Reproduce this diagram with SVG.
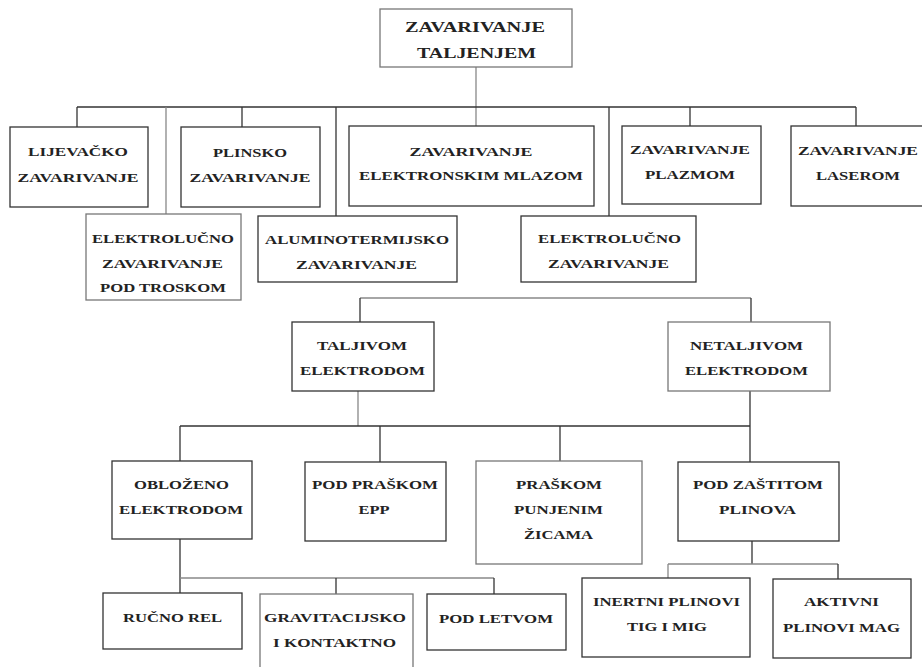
<svg xmlns="http://www.w3.org/2000/svg" width="922" height="667" viewBox="0 0 922 667">
<style>
rect{fill:#fff;stroke:#333;stroke-width:1.3}
rect.g{stroke:#777}
#connectors line{stroke:#333;stroke-width:1.3}
#connectors line.g{stroke:#888}
text{font-family:"Liberation Serif","Times New Roman",serif;font-weight:bold;font-size:13.5px;fill:#222;text-anchor:middle}
text.r{font-size:14.5px}
</style>
<rect x="0" y="0" width="922" height="667" style="fill:#fff;stroke:none"/>
<g id="connectors">
<line class="g" x1="476" y1="67" x2="476" y2="126"/>
<line x1="77" y1="107" x2="856" y2="107"/>
<line x1="77" y1="107" x2="77" y2="127"/>
<line class="g" x1="166" y1="107" x2="166" y2="214"/>
<line x1="242" y1="107" x2="242" y2="127"/>
<line x1="336" y1="107" x2="336" y2="216"/>
<line x1="609" y1="107" x2="609" y2="216"/>
<line x1="690" y1="107" x2="690" y2="126"/>
<line x1="856" y1="107" x2="856" y2="126"/>
<line class="g" x1="360" y1="298" x2="751" y2="298"/>
<line x1="360" y1="298" x2="360" y2="322"/>
<line x1="751" y1="298" x2="751" y2="322"/>
<line class="g" x1="358" y1="391" x2="358" y2="426"/>
<line x1="180" y1="426" x2="750" y2="426"/>
<line x1="180" y1="426" x2="180" y2="461"/>
<line x1="380" y1="426" x2="380" y2="462"/>
<line x1="560" y1="426" x2="560" y2="461"/>
<line x1="750" y1="391" x2="750" y2="462"/>
<line x1="180" y1="539" x2="180" y2="593"/>
<line class="g" x1="180" y1="578" x2="494" y2="578"/>
<line x1="336" y1="578" x2="336" y2="594"/>
<line x1="494" y1="578" x2="494" y2="594"/>
<line x1="752" y1="541" x2="752" y2="564"/>
<line class="g" x1="668" y1="564" x2="838" y2="564"/>
<line class="g" x1="668" y1="564" x2="668" y2="578"/>
<line x1="838" y1="564" x2="838" y2="579"/>
</g>
<g id="n-root">
<rect class="g" x="380" y="9" width="192" height="58"/>
<text class="r" x="475" y="32" textLength="140" lengthAdjust="spacingAndGlyphs">ZAVARIVANJE</text>
<text class="r" x="476.5" y="58" textLength="119" lengthAdjust="spacingAndGlyphs">TALJENJEM</text>
</g>
<g id="n-lijevacko">
<rect x="10" y="127" width="138" height="80"/>
<text x="78" y="156" textLength="100" lengthAdjust="spacingAndGlyphs">LIJEVAČKO</text>
<text x="78" y="182" textLength="121" lengthAdjust="spacingAndGlyphs">ZAVARIVANJE</text>
</g>
<g id="n-plinsko">
<rect x="181" y="127" width="139" height="80"/>
<text x="250" y="157" textLength="74" lengthAdjust="spacingAndGlyphs">PLINSKO</text>
<text x="250" y="182" textLength="121" lengthAdjust="spacingAndGlyphs">ZAVARIVANJE</text>
</g>
<g id="n-elektronski">
<rect x="349" y="126" width="245" height="80"/>
<text x="471" y="156" textLength="123" lengthAdjust="spacingAndGlyphs">ZAVARIVANJE</text>
<text x="471" y="180" textLength="224" lengthAdjust="spacingAndGlyphs">ELEKTRONSKIM MLAZOM</text>
</g>
<g id="n-plazma">
<rect x="622" y="126" width="139" height="78"/>
<text x="690" y="154" textLength="120" lengthAdjust="spacingAndGlyphs">ZAVARIVANJE</text>
<text x="690" y="179" textLength="90" lengthAdjust="spacingAndGlyphs">PLAZMOM</text>
</g>
<g id="n-laser">
<rect x="791" y="126" width="140" height="80"/>
<text x="858" y="155" textLength="120" lengthAdjust="spacingAndGlyphs">ZAVARIVANJE</text>
<text x="858" y="180" textLength="84" lengthAdjust="spacingAndGlyphs">LASEROM</text>
</g>
<g id="n-troska">
<rect class="g" x="86" y="214" width="155" height="86"/>
<text x="163" y="243" textLength="142" lengthAdjust="spacingAndGlyphs">ELEKTROLUČNO</text>
<text x="162.5" y="268" textLength="121" lengthAdjust="spacingAndGlyphs">ZAVARIVANJE</text>
<text x="163" y="292" textLength="126" lengthAdjust="spacingAndGlyphs">POD TROSKOM</text>
</g>
<g id="n-alumino">
<rect x="258" y="216" width="199" height="66"/>
<text x="357" y="244" textLength="184" lengthAdjust="spacingAndGlyphs">ALUMINOTERMIJSKO</text>
<text x="356.5" y="269" textLength="121" lengthAdjust="spacingAndGlyphs">ZAVARIVANJE</text>
</g>
<g id="n-elektrolucno">
<rect x="521" y="216" width="175" height="66"/>
<text x="609.5" y="243" textLength="143" lengthAdjust="spacingAndGlyphs">ELEKTROLUČNO</text>
<text x="608.5" y="268" textLength="121" lengthAdjust="spacingAndGlyphs">ZAVARIVANJE</text>
</g>
<g id="n-taljivom">
<rect x="292" y="322" width="142" height="69"/>
<text x="362" y="350" textLength="90" lengthAdjust="spacingAndGlyphs">TALJIVOM</text>
<text x="362.5" y="375" textLength="125" lengthAdjust="spacingAndGlyphs">ELEKTRODOM</text>
</g>
<g id="n-netaljivom">
<rect class="g" x="668" y="322" width="162" height="69"/>
<text x="746.5" y="350" textLength="113" lengthAdjust="spacingAndGlyphs">NETALJIVOM</text>
<text x="746.5" y="375" textLength="123" lengthAdjust="spacingAndGlyphs">ELEKTRODOM</text>
</g>
<g id="n-oblozeno">
<rect x="112" y="461" width="140" height="78"/>
<text x="181.5" y="489" textLength="95" lengthAdjust="spacingAndGlyphs">OBLOŽENO</text>
<text x="181" y="514" textLength="124" lengthAdjust="spacingAndGlyphs">ELEKTRODOM</text>
</g>
<g id="n-epp">
<rect x="305" y="462" width="141" height="79"/>
<text x="375" y="489" textLength="126" lengthAdjust="spacingAndGlyphs">POD PRAŠKOM</text>
<text x="374" y="514" textLength="31" lengthAdjust="spacingAndGlyphs">EPP</text>
</g>
<g id="n-zicama">
<rect class="g" x="476" y="461" width="166" height="103"/>
<text x="559" y="489" textLength="86" lengthAdjust="spacingAndGlyphs">PRAŠKOM</text>
<text x="558.5" y="514" textLength="89" lengthAdjust="spacingAndGlyphs">PUNJENIM</text>
<text x="558.5" y="539" textLength="69" lengthAdjust="spacingAndGlyphs">ŽICAMA</text>
</g>
<g id="n-zastita">
<rect x="678" y="462" width="161" height="79"/>
<text x="758" y="489" textLength="130" lengthAdjust="spacingAndGlyphs">POD ZAŠTITOM</text>
<text x="757.5" y="514" textLength="77" lengthAdjust="spacingAndGlyphs">PLINOVA</text>
</g>
<g id="n-rucno">
<rect x="103" y="593" width="139" height="56"/>
<text x="172.5" y="622" textLength="99" lengthAdjust="spacingAndGlyphs">RUČNO REL</text>
</g>
<g id="n-gravitacijsko">
<rect class="g" x="260" y="594" width="153" height="90"/>
<text x="335" y="622" textLength="142" lengthAdjust="spacingAndGlyphs">GRAVITACIJSKO</text>
<text x="334.5" y="647" textLength="123" lengthAdjust="spacingAndGlyphs">I KONTAKTNO</text>
</g>
<g id="n-letva">
<rect x="427" y="594" width="139" height="56"/>
<text x="496" y="623" textLength="114" lengthAdjust="spacingAndGlyphs">POD LETVOM</text>
</g>
<g id="n-inertni">
<rect x="582" y="578" width="168" height="79"/>
<text x="666.5" y="606" textLength="147" lengthAdjust="spacingAndGlyphs">INERTNI PLINOVI</text>
<text x="667" y="631" textLength="80" lengthAdjust="spacingAndGlyphs">TIG I MIG</text>
</g>
<g id="n-aktivni">
<rect x="773" y="579" width="138" height="79"/>
<text x="841.5" y="606" textLength="75" lengthAdjust="spacingAndGlyphs">AKTIVNI</text>
<text x="841.5" y="632" textLength="117" lengthAdjust="spacingAndGlyphs">PLINOVI MAG</text>
</g>
</svg>
